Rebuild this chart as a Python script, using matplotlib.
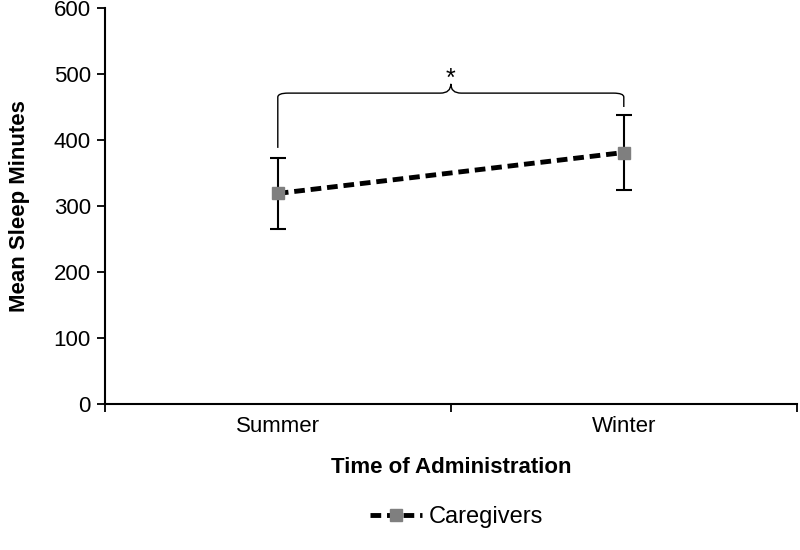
import matplotlib.pyplot as plt
from matplotlib.path import Path
from matplotlib.patches import PathPatch

plt.rcParams['font.family'] = ['Liberation Sans', 'DejaVu Sans']

seasons = ['Summer', 'Winter']
mean_sleep = [319, 381]
sleep_err = [54, 57]
series_name = 'Caregivers'

# bracket for the significance mark (data units)
bracket_top = 471
bracket_low = [388, 450]
star_y = 492

fig = plt.figure(figsize=(8, 5.5), dpi=100)
ax = fig.add_axes([0.131, 0.2655, 0.865, 0.72])

x = [1, 2]
ax.errorbar(x, mean_sleep, yerr=sleep_err, fmt='none', ecolor='black',
            elinewidth=1.5, capsize=6, capthick=1.5, zorder=2)
ax.plot(x, mean_sleep, linestyle=(0, (2.2, 1.2)), color='black', linewidth=3.5,
        marker='s', markersize=8, markerfacecolor='#7f7f7f',
        markeredgecolor='#7f7f7f', label=series_name, zorder=3)

# curly bracket
mid = (x[0] + x[1]) / 2
r = 0.03
ry = 6
tip = 14
verts = [
    (x[0], bracket_low[0]),
    (x[0], bracket_top - ry),
    (x[0], bracket_top), (x[0] + r, bracket_top),
    (mid - r, bracket_top),
    (mid, bracket_top), (mid, bracket_top + tip),
    (mid, bracket_top), (mid + r, bracket_top),
    (x[1] - r, bracket_top),
    (x[1], bracket_top), (x[1], bracket_top - ry),
    (x[1], bracket_low[1]),
]
codes = [Path.MOVETO, Path.LINETO, Path.CURVE3, Path.CURVE3, Path.LINETO,
         Path.CURVE3, Path.CURVE3, Path.CURVE3, Path.CURVE3, Path.LINETO,
         Path.CURVE3, Path.CURVE3, Path.LINETO]
ax.add_patch(PathPatch(Path(verts, codes), facecolor='none',
                       edgecolor='black', linewidth=1.0))
ax.text(mid, star_y, '*', ha='center', va='center', fontsize=18)

ax.set_xlim(0.5, 2.5)
ax.set_ylim(0, 600)
ax.set_yticks(range(0, 601, 100))
ax.set_xticks([0.5, 1.5, 2.5])
ax.set_xticklabels([])
ax.set_xticks(x, minor=True)
ax.set_xticklabels(seasons, minor=True)
ax.tick_params(axis='x', which='minor', length=0, pad=9, labelsize=16)
ax.tick_params(axis='x', which='major', length=6, width=1.3, direction='out')
ax.tick_params(axis='y', length=6, width=1.3, labelsize=16, pad=4)

for side in ['top', 'right']:
    ax.spines[side].set_visible(False)
for side in ['left', 'bottom']:
    ax.spines[side].set_linewidth(1.5)

ax.set_xlabel('Time of Administration', fontsize=16, fontweight='bold', labelpad=14)
ax.set_ylabel('Mean Sleep Minutes', fontsize=16, fontweight='bold', labelpad=17)

fig.legend(loc='center', bbox_to_anchor=(0.571, 0.06), frameon=False,
           fontsize=17, handlelength=2.2, handletextpad=0.3)

fig.savefig('out.png', dpi=100)
